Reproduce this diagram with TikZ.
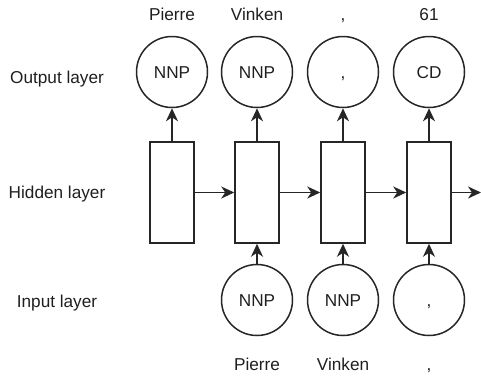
\documentclass[tikz,border=0pt]{standalone}
\usepackage{fontspec}
\setmainfont{Liberation Sans}
\usetikzlibrary{arrows.meta}
\begin{document}
\begin{tikzpicture}[x=1pt,y=-1pt,
  every node/.style={font=\fontsize{17.2}{20}\selectfont, text=black!88},
  unit/.style={draw=black!85, line width=1.5pt, circle, minimum size=71pt, inner sep=0pt, text height=12pt, text depth=0pt},
  hid/.style={draw=black!85, line width=1.5pt, rectangle, minimum width=44pt, minimum height=101pt, inner sep=0pt},
  conn/.style={draw=black!85, line width=1.5pt, -{Stealth[length=13pt,width=12pt,inset=4pt]}},
  lbl/.style={anchor=base}]
\useasboundingbox (0,0) rectangle (481,378);
% left labels
\node[lbl] (lo) at (57,83) {Output layer};
\node[lbl] (lh) at (57,198) {Hidden layer};
\node[lbl] (li) at (57,307) {Input layer};
% output layer
\node[unit] (o1) at (172,72) {NNP};
\node[unit] (o2) at (257,72) {NNP};
\node[unit] (o3) at (343,72) {,};
\node[unit] (o4) at (429,72) {CD};
% hidden layer
\node[hid] (r1) at (172,192.5) {};
\node[hid] (r2) at (257,192.5) {};
\node[hid] (r3) at (343,192.5) {};
\node[hid] (r4) at (429,192.5) {};
% input layer
\node[unit] (i2) at (257,300) {NNP};
\node[unit] (i3) at (343,300) {NNP};
\node[unit] (i4) at (429,300) {,};
% top words
\node[lbl] (t1) at (172,20) {Pierre};
\node[lbl] (t2) at (257,20) {Vinken};
\node[lbl] (t3) at (343,20) {,};
\node[lbl] (t4) at (429,20) {61};
% bottom words
\node[lbl] (b2) at (257,370) {Pierre};
\node[lbl] (b3) at (343,370) {Vinken};
\node[lbl] (b4) at (429,370) {,};
% connectors
\coordinate (end) at (481,192.5);
\draw[conn] (r1.north) -- (o1.south);
\draw[conn] (r2.north) -- (o2.south);
\draw[conn] (r3.north) -- (o3.south);
\draw[conn] (r4.north) -- (o4.south);
\draw[conn] (i2.north) -- (r2.south);
\draw[conn] (i3.north) -- (r3.south);
\draw[conn] (i4.north) -- (r4.south);
\draw[conn] (r1.east) -- (r2.west);
\draw[conn] (r2.east) -- (r3.west);
\draw[conn] (r3.east) -- (r4.west);
\draw[conn] (r4.east) -- (end);
\end{tikzpicture}
\end{document}
